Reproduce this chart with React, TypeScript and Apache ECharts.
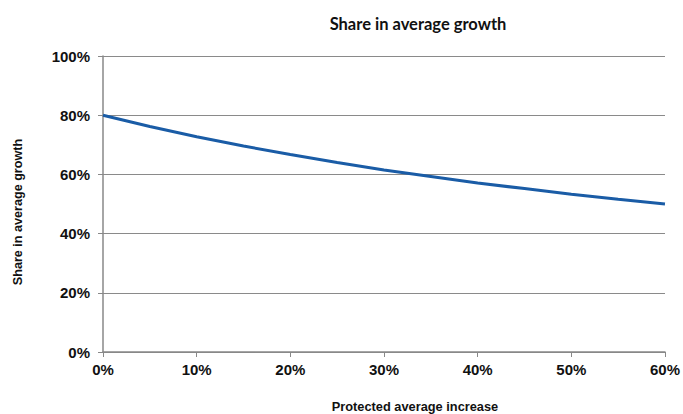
import React, { useEffect, useRef } from "react";
import * as echarts from "echarts";

const xValues = [0, 5, 10, 15, 20, 25, 30, 35, 40, 45, 50, 55, 60];
const shareValues = [80, 76.2, 72.7, 69.6, 66.7, 64, 61.5, 59.3, 57.1, 55.2, 53.3, 51.6, 50];
const titleText = "Share in average growth";
const xAxisName = "Protected average increase";
const yAxisName = "Share in average growth";

export default function App() {
  const ref = useRef<HTMLDivElement>(null);
  useEffect(() => {
    const chart = echarts.init(ref.current!, null, { renderer: "svg" });
    chart.setOption({
      animation: false,
      backgroundColor: "#ffffff",
      title: {
        text: titleText,
        left: 413,
        top: 10,
        textAlign: "center",
        textStyle: { fontFamily: "Lato", fontWeight: "bold", fontSize: 16.5, color: "#111" },
      },
      grid: { left: 103, right: 15, top: 56, bottom: 62 },
      xAxis: {
        type: "value",
        min: 0,
        max: 60,
        interval: 10,
        axisLine: { show: true, lineStyle: { color: "#888", width: 1.5 } },
        axisTick: { show: true, length: 5, lineStyle: { color: "#888" } },
        splitLine: { show: false },
        axisLabel: {
          formatter: "{value}%",
          margin: 10,
          fontFamily: "Liberation Sans",
          fontWeight: "bold",
          fontSize: 15,
          color: "#111",
        },
      },
      yAxis: {
        type: "value",
        min: 0,
        max: 100,
        interval: 20,
        axisLine: { show: true, lineStyle: { color: "#888", width: 1.5 } },
        axisTick: { show: true, length: 5, lineStyle: { color: "#888" } },
        splitLine: { show: true, lineStyle: { color: "#8a8a8a", width: 1.2 } },
        axisLabel: {
          formatter: "{value}%",
          margin: 13,
          fontFamily: "Liberation Sans",
          fontWeight: "bold",
          fontSize: 15,
          color: "#111",
        },
      },
      graphic: [
        {
          type: "text",
          x: 415,
          y: 406,
          style: {
            text: xAxisName,
            fontFamily: "Liberation Sans",
            fontWeight: "bold",
            fontSize: 12.8,
            fill: "#111",
            textAlign: "center",
            textVerticalAlign: "middle",
          },
        },
        {
          type: "text",
          x: 18,
          y: 212,
          rotation: Math.PI / 2,
          style: {
            text: yAxisName,
            fontFamily: "Liberation Sans",
            fontWeight: "bold",
            fontSize: 12.6,
            fill: "#111",
            textAlign: "center",
            textVerticalAlign: "middle",
          },
        },
      ],
      series: [
        {
          type: "line",
          data: xValues.map((x, i) => [x, shareValues[i]]),
          showSymbol: false,
          lineStyle: { color: "#1a5ca6", width: 3 },
        },
      ],
    });
    return () => chart.dispose();
  }, []);
  return <div ref={ref} style={{ width: 683, height: 414, position: "absolute", left: 0, top: 0 }} />;
}
